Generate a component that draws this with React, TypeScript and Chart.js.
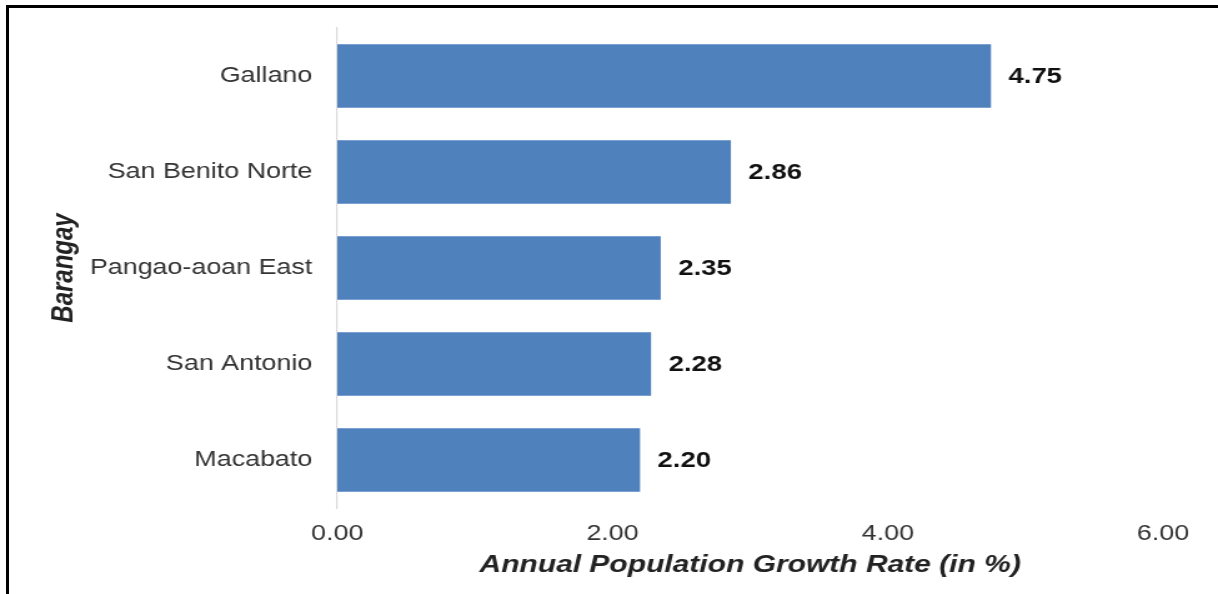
import React, { useEffect, useRef } from "react";
import { Chart, registerables } from "chart.js";

Chart.register(...registerables);

const categories: string[] = ["Gallano", "San Benito Norte", "Pangao-aoan East", "San Antonio", "Macabato"];
const growthRates: number[] = [4.75, 2.86, 2.35, 2.28, 2.2];
const xTicks: number[] = [0, 2, 4, 6];
const xTitle = "Annual Population Growth Rate (in %)";
const yTitle = "Barangay";

const FONT = '"Liberation Sans", Arial, sans-serif';
const INNER_W = 975;
const PAGE_W = 1218;
const PAGE_H = 594;

const valueLabels = {
  id: "valueLabels",
  afterDatasetsDraw(chart: any) {
    const ctx = chart.ctx;
    const meta = chart.getDatasetMeta(0);
    const data = chart.data.datasets[0].data as number[];
    ctx.save();
    ctx.font = `bold 22px ${FONT}`;
    ctx.fillStyle = "#111111";
    ctx.textAlign = "left";
    ctx.textBaseline = "middle";
    meta.data.forEach((bar: any, i: number) => {
      ctx.fillText(Number(data[i]).toFixed(2), bar.x + 14, bar.y + 1);
    });
    ctx.restore();
  },
};

export default function App() {
  const canvasRef = useRef<HTMLCanvasElement | null>(null);

  useEffect(() => {
    if (!canvasRef.current) return;
    const chart = new Chart(canvasRef.current, {
      type: "bar",
      data: {
        labels: categories,
        datasets: [
          {
            data: growthRates,
            backgroundColor: "#4F81BD",
            borderWidth: 0,
            barPercentage: 0.66,
            categoryPercentage: 1,
          },
        ],
      },
      plugins: [valueLabels],
      options: {
        indexAxis: "y",
        responsive: false,
        maintainAspectRatio: false,
        animation: false,
        devicePixelRatio: 1,
        layout: { padding: { top: 28, right: 44, left: 0, bottom: 0 } },
        plugins: {
          legend: { display: false },
          tooltip: { enabled: false },
          title: { display: false },
        },
        scales: {
          x: {
            type: "linear",
            min: xTicks[0],
            max: xTicks[xTicks.length - 1],
            afterBuildTicks: (scale: any) => {
              scale.ticks = xTicks.map((v) => ({ value: v }));
            },
            afterFit: (scale: any) => {
              scale.height = 86;
            },
            grid: { display: false, drawTicks: false },
            border: { display: false },
            ticks: {
              padding: 13,
              color: "#333333",
              font: { family: FONT, size: 21.5 },
              callback: (v: any) => Number(v).toFixed(2),
            },
            title: {
              display: true,
              text: xTitle,
              color: "#222222",
              font: { family: FONT, size: 24, weight: "bold", style: "italic" },
              padding: { top: 0, bottom: 14 },
            },
          },
          y: {
            type: "category",
            afterFit: (scale: any) => {
              scale.width = 270;
              scale.paddingTop = 0;
              scale.paddingBottom = 0;
            },
            grid: { display: false, drawTicks: false },
            border: { display: true, color: "#D9D9D9", width: 1.2 },
            ticks: {
              padding: 20,
              color: "#333333",
              font: { family: FONT, size: 21.5 },
            },
            title: {
              display: true,
              text: yTitle,
              color: "#222222",
              font: { family: FONT, size: 24, weight: "bold", style: "italic" },
              padding: { top: 37, bottom: 0 },
            },
          },
        },
      },
    });
    return () => chart.destroy();
  }, []);

  return (
    <div
      style={{
        position: "fixed",
        left: 0,
        top: 0,
        width: PAGE_W,
        height: PAGE_H,
        background: "#ffffff",
        overflow: "hidden",
      }}
    >
      <div
        style={{
          position: "absolute",
          left: 0,
          top: 0,
          width: INNER_W,
          height: PAGE_H,
          transform: `scaleX(${PAGE_W / INNER_W})`,
          transformOrigin: "0 0",
        }}
      >
        <canvas ref={canvasRef} width={INNER_W} height={PAGE_H} />
      </div>
      <div style={{ position: "absolute", left: 6, top: 5, width: PAGE_W - 6, height: 3, background: "#000" }} />
      <div style={{ position: "absolute", left: 6, top: 5, width: 3, height: PAGE_H - 5, background: "#000" }} />
    </div>
  );
}
